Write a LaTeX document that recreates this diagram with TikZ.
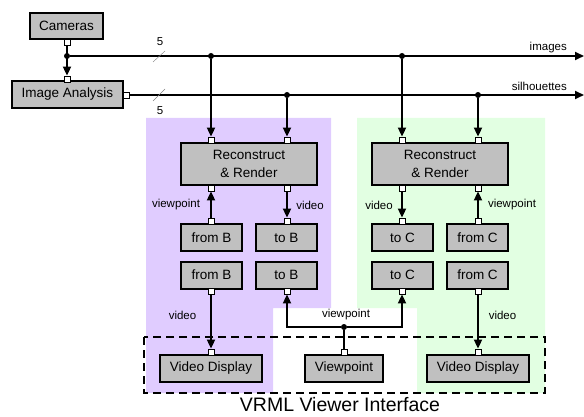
\documentclass[tikz,border=0pt]{standalone}
\usepackage{fontspec}
\setmainfont{Liberation Sans}
\usetikzlibrary{arrows.meta}

\definecolor{lilac}{RGB}{224,204,255}
\definecolor{mint}{RGB}{226,255,226}
\definecolor{boxgray}{RGB}{192,192,192}

\tikzset{
  block/.style={draw, line width=2pt, fill=boxgray, inner sep=0pt, align=center,
    font=\fontsize{13.5}{15}\selectfont},
  port/.style={draw, line width=0.8pt, fill=white, minimum size=6pt, inner sep=0pt},
  junc/.style={circle, fill, inner sep=0pt, minimum size=6pt},
  wire/.style={line width=1.8pt},
  link/.style={wire, -{Triangle[length=9pt,width=8pt]}},
  lbl/.style={inner sep=0pt, font=\fontsize{11.5}{13}\selectfont}
}

\begin{document}
\begin{tikzpicture}[x=1pt, y=-1pt]
    \useasboundingbox (0,0) rectangle (584,417);

    % Shaded regions
    \fill[lilac] (146,118) -- (331,118) -- (331,308) -- (273,308) -- (273,393) -- (146,393) -- cycle;
    \fill[mint] (357,118) -- (545,118) -- (545,393) -- (417,393) -- (417,308) -- (357,308) -- cycle;

    % Viewer interface frame
    \draw[line width=2pt, dash pattern=on 8pt off 5pt] (144,337) rectangle (545,393);
    \node[font=\fontsize{19.5}{22}\selectfont] (vrml) at (340,405) {VRML Viewer Interface};

    % Cameras and image analysis
    \node[block, minimum width=73pt, minimum height=26pt] (cam) at (66.5,26) {Cameras};
    \node[block, minimum width=111pt, minimum height=27pt] (ia) at (67.5,94.5) {Image Analysis};
    \node[port] (camS) at (67,42) {};
    \node[port] (iaN) at (67,79) {};
    \node[port] (iaE) at (126,95) {};

    % Reconstruct & Render B
    \node[block, minimum width=136pt, minimum height=42pt] (recB) at (249,164) {Reconstruct\\[2.5pt]\& Render};
    \node[block, minimum width=61pt, minimum height=27pt] (fromB1) at (211.5,237.5) {from B};
    \node[block, minimum width=61pt, minimum height=27pt] (toB1) at (286.5,237.5) {to B};
    \node[block, minimum width=61pt, minimum height=27pt] (fromB2) at (211.5,275) {from B};
    \node[block, minimum width=61pt, minimum height=27pt] (toB2) at (286.5,275) {to B};
    \node[port] (recBnw) at (211,140) {};
    \node[port] (recBne) at (287,140) {};
    \node[port] (recBsw) at (211,188) {};
    \node[port] (recBse) at (287,188) {};
    \node[port] (fromB1N) at (211,221) {};
    \node[port] (toB1N) at (287,221) {};
    \node[port] (fromB2S) at (211,291) {};
    \node[port] (toB2S) at (287,291) {};

    % Reconstruct & Render C
    \node[block, minimum width=136pt, minimum height=42pt] (recC) at (440,164) {Reconstruct\\[2.5pt]\& Render};
    \node[block, minimum width=61pt, minimum height=27pt] (toC1) at (402.5,237.5) {to C};
    \node[block, minimum width=61pt, minimum height=27pt] (fromC1) at (477.5,237.5) {from C};
    \node[block, minimum width=61pt, minimum height=27pt] (toC2) at (402.5,275) {to C};
    \node[block, minimum width=61pt, minimum height=27pt] (fromC2) at (477.5,275) {from C};
    \node[port] (recCnw) at (402,140) {};
    \node[port] (recCne) at (478,140) {};
    \node[port] (recCsw) at (402,188) {};
    \node[port] (recCse) at (478,188) {};
    \node[port] (toC1N) at (402,221) {};
    \node[port] (fromC1N) at (478,221) {};
    \node[port] (toC2S) at (402,291) {};
    \node[port] (fromC2S) at (478,291) {};

    % Displays
    \node[block, minimum width=102pt, minimum height=27pt] (dispB) at (211,368.5) {Video Display};
    \node[block, minimum width=78pt, minimum height=27pt] (vp) at (344,368.5) {Viewpoint};
    \node[block, minimum width=102pt, minimum height=27pt] (dispC) at (478,368.5) {Video Display};
    \node[port] (dispBN) at (211,352) {};
    \node[port] (vpN) at (344,352) {};
    \node[port] (dispCN) at (478,352) {};

    % Buses
    \node[junc] (jCam) at (67,56) {};
    \node[junc] (jImgB) at (211,56) {};
    \node[junc] (jImgC) at (402,56) {};
    \node[junc] (jSilB) at (287,95) {};
    \node[junc] (jSilC) at (478,95) {};
    \node[junc] (jVp) at (344,327) {};
    \coordinate (imgEnd) at (584,56);
    \coordinate (silEnd) at (584,95);

    \draw[link] (camS) -- (iaN);
    \draw[link] (jCam) -- (imgEnd);
    \draw[link] (iaE) -- (silEnd);
    \draw[gray, thin] (153,62) -- (165,51);
    \draw[gray, thin] (153,101) -- (165,89);
    \node[lbl] (nImg) at (160,42) {5};
    \node[lbl] (nSil) at (160,111) {5};
    \node[lbl, anchor=east] (lImg) at (567,48) {images};
    \node[lbl, anchor=east] (lSil) at (567,86) {silhouettes};

    % Feeds into the renderers
    \draw[link] (jImgB) -- (recBnw);
    \draw[link] (jSilB) -- (recBne);
    \draw[link] (jImgC) -- (recCnw);
    \draw[link] (jSilC) -- (recCne);

    % Renderer B links
    \draw[link] (fromB1N) -- (recBsw);
    \draw[link] (recBse) -- (toB1N);
    \node[lbl] (lvpB) at (176,205) {viewpoint};
    \node[lbl] (lvdB) at (310,205) {video};

    % Renderer C links
    \draw[link] (recCsw) -- (toC1N);
    \draw[link] (fromC1N) -- (recCse);
    \node[lbl] (lvdC) at (379,205) {video};
    \node[lbl] (lvpC) at (512,205) {viewpoint};

    % Links to the viewer interface
    \draw[link] (fromB2S) -- (dispBN);
    \draw[link] (fromC2S) -- (dispCN);
    \draw[wire] (vpN) -- (jVp);
    \draw[link] (jVp) -| (toB2S);
    \draw[link] (jVp) -| (toC2S);
    \node[lbl] (lvdB2) at (182.5,315) {video};
    \node[lbl] (lvp2) at (346,315) {viewpoint};
    \node[lbl] (lvdC2) at (502.5,315) {video};
\end{tikzpicture}
\end{document}
